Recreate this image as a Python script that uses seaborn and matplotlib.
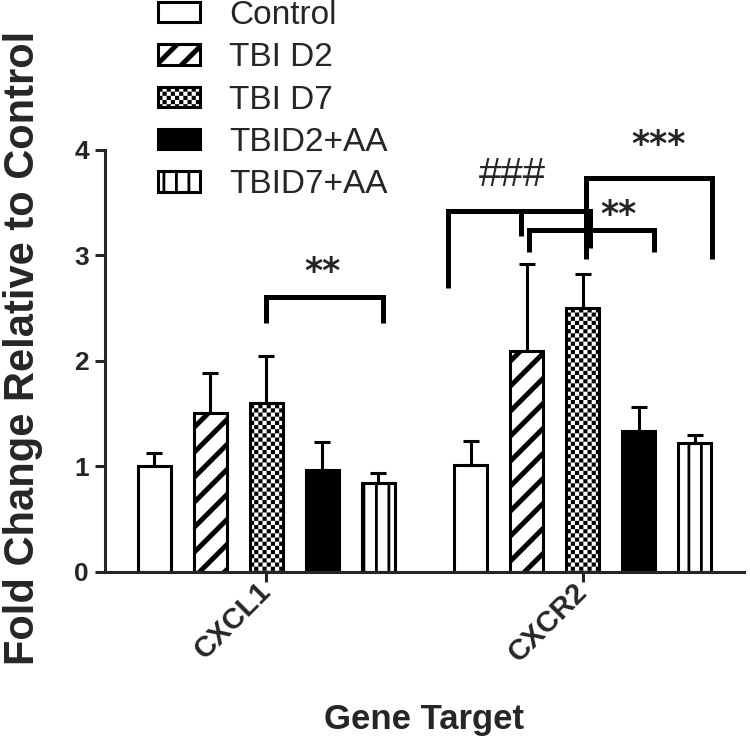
import warnings
import numpy as np
import pandas as pd
import matplotlib
matplotlib.use("Agg")
import matplotlib.pyplot as plt
import matplotlib.hatch as mhatch
from matplotlib.path import Path
import seaborn as sns

warnings.filterwarnings("ignore")

genes = ["CXCL1", "CXCR2"]
groups = ["Control", "TBI D2", "TBI D7", "TBID2+AA", "TBID7+AA"]
# mean fold change, one value per gene
control = [1.00, 1.01]
tbi_d2 = [1.51, 2.09]
tbi_d7 = [1.60, 2.50]
tbi_d2_aa = [0.97, 1.34]
tbi_d7_aa = [0.84, 1.22]
# upper error bar (SEM)
control_err = [0.13, 0.23]
tbi_d2_err = [0.38, 0.83]
tbi_d7_err = [0.45, 0.32]
tbi_d2_aa_err = [0.26, 0.22]
tbi_d7_aa_err = [0.10, 0.08]

# significance brackets: x left, x right, top, left leg end, right leg end
brackets = [
    (0.0, 0.37, 2.61, 2.36, 2.36),
    (0.573, 1.022, 3.42, 2.69, 3.07),
    (0.829, 1.225, 3.24, 3.03, 3.03),
    (1.009, 1.41, 3.73, 2.97, 2.97),
]
extra_legs = [(0.804, 3.42, 3.18)]
stars = [("**", 0.177, 2.75), ("###", 0.778, 3.66), ("**", 1.114, 3.29), ("***", 1.241, 3.95)]


# custom hatch patterns (sparse thick stripes, checkerboard, vertical bars)
def _stripes(n, w):
    return [[(0, k / n), (1, k / n + 1), (1, k / n + 1 + w), (0, k / n + w)] for k in range(-n - 1, n + 1)]


def _checks(n):
    s = 1 / n
    return [[(i * s, j * s), ((i + 1) * s, j * s), ((i + 1) * s, (j + 1) * s), (i * s, (j + 1) * s)]
            for i in range(n) for j in range(n) if (i + j) % 2 == 0]


def _vlines(n, w):
    return [[(k / n, 0), (k / n + w, 0), (k / n + w, 1), (k / n, 1)] for k in range(n)]


PATTERNS = {"d": _stripes(4, 0.07), "c": _checks(24), "v": _vlines(8, 0.028)}


class PolyHatch(mhatch.HatchPatternBase):
    def __init__(self, hatch, density):
        self.polys = [p for ch in hatch for p in PATTERNS.get(ch, [])]
        self.num_vertices = sum(len(p) + 1 for p in self.polys)

    def set_vertices_and_codes(self, vertices, codes):
        i = 0
        for p in self.polys:
            n = len(p)
            vertices[i:i + n] = p
            vertices[i + n] = p[0]
            codes[i] = Path.MOVETO
            codes[i + 1:i + n] = Path.LINETO
            codes[i + n] = Path.CLOSEPOLY
            i += n + 1


mhatch._hatch_types.append(PolyHatch)

sns.set_style("ticks")
plt.rcParams["font.family"] = ["Liberation Sans", "DejaVu Sans"]
plt.rcParams["hatch.linewidth"] = 0.0

df = pd.DataFrame({
    "gene": genes * len(groups),
    "group": np.repeat(groups, len(genes)),
    "fold": control + tbi_d2 + tbi_d7 + tbi_d2_aa + tbi_d7_aa,
})
errs = [control_err, tbi_d2_err, tbi_d7_err, tbi_d2_aa_err, tbi_d7_aa_err]
means = [control, tbi_d2, tbi_d7, tbi_d2_aa, tbi_d7_aa]
palette = dict(zip(groups, ["white", "white", "white", "black", "white"]))
hatches = [None, "d", "c", None, "v"]

fig = plt.figure(figsize=(7.5, 7.52), dpi=100)
ax = fig.add_axes([0.14, 0.2394, 0.852, 0.5612])

sns.barplot(data=df, x="gene", y="fold", hue="group", palette=palette, saturation=1,
            edgecolor="black", linewidth=2.2, width=0.886, gap=0.41, errorbar=None,
            legend=False, ax=ax)

bars = list(ax.containers)
for cont, h, m, e in zip(bars, hatches, means, errs):
    xs = []
    for bar in cont:
        bar.set_hatch(h)
        xs.append(bar.get_x() + bar.get_width() / 2)
    ax.errorbar(xs, m, yerr=[np.zeros(len(e)), e], fmt="none", ecolor="black",
                elinewidth=2.2, capsize=6, capthick=2.2, zorder=3)

for x0, x1, top, b0, b1 in brackets:
    ax.plot([x0, x0, x1, x1], [b0, top, top, b1], color="black", lw=3.6,
            clip_on=False, solid_joinstyle="miter", solid_capstyle="butt")
for x, top, bottom in extra_legs:
    ax.plot([x, x], [top, bottom], color="black", lw=3.6, clip_on=False, solid_capstyle="butt")
for txt, x, y in stars:
    if txt.startswith("#"):
        ax.text(x, y, txt, ha="center", va="baseline", fontsize=29, clip_on=False)
    else:
        ax.text(x, y, txt, ha="center", va="baseline", fontsize=25, fontweight="bold",
                family="DejaVu Sans", clip_on=False)

ax.set_xlim(-0.51, 1.51)
ax.set_ylim(0, 4)
ax.set_yticks([0, 1, 2, 3, 4])
sns.despine(ax=ax)
for s in ["left", "bottom"]:
    ax.spines[s].set_linewidth(2.2)
ax.tick_params(axis="y", width=2.2, length=7.5, labelsize=19, pad=4)
ax.tick_params(axis="x", width=2.2, length=7, labelsize=21, pad=4)
for lbl in ax.get_yticklabels():
    lbl.set_fontweight("bold")
ax.set_xticks([0, 1])
ax.set_xticklabels(genes, rotation=45, ha="right", va="center", rotation_mode="anchor",
                   fontweight="bold", fontsize=21)

ax.set_ylabel("Fold Change Relative to Control", fontsize=30, fontweight="bold")
ax.yaxis.set_label_coords(-0.097, 0.53)
ax.set_xlabel("Gene Target", fontsize=25, fontweight="bold")
ax.xaxis.set_label_coords(0.5, -0.31)

fig.legend(bars, groups, loc="upper left", bbox_to_anchor=(0.2113, 1.0), frameon=False,
           fontsize=24, handlelength=1.26, handleheight=0.57, handletextpad=0.86,
           labelspacing=0.34, borderpad=0, borderaxespad=0)

fig.savefig("out.png", dpi=100)
